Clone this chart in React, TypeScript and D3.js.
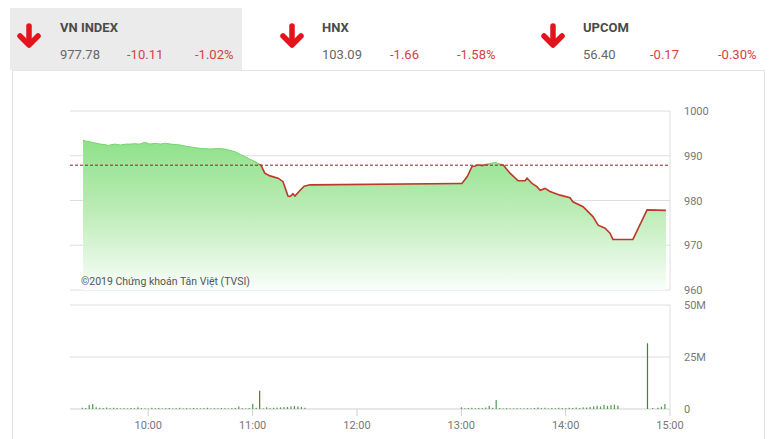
import React from "react";
import * as d3 from "d3";

// ---------- header data ----------
const indexNames = ["VN INDEX", "HNX", "UPCOM"];
const indexValues = ["977.78", "103.09", "56.40"];
const indexChanges = ["-10.11", "-1.66", "-0.17"];
const indexPercents = ["-1.02%", "-1.58%", "-0.30%"];

// ---------- price series ----------
const refPrice = 987.89;
const priceTimes = [
  "09:22:30", "09:24:00", "09:26:30", "09:29:00", "09:32:20", "09:35:00", "09:37:00", "09:39:00",
  "09:41:00", "09:44:00", "09:47:00", "09:49:30", "09:52:00", "09:55:00", "09:58:00", "10:01:00",
  "10:04:00", "10:07:00", "10:09:40", "10:13:00", "10:18:20", "10:22:00", "10:27:00", "10:31:00",
  "10:35:30", "10:40:00", "10:44:00", "10:47:00", "10:50:00", "10:53:00", "10:55:40", "10:58:00",
  "11:01:20", "11:04:50", "11:07:00", "11:10:00", "11:14:40", "11:17:30", "11:20:20", "11:21:30",
  "11:22:30", "11:23:10", "11:24:20", "11:27:20", "11:29:40", "11:33:00", "12:59:20", "13:00:20",
  "13:03:20", "13:06:10", "13:08:00", "13:09:40", "13:12:00", "13:14:00", "13:19:20", "13:22:00",
  "13:24:00", "13:28:00", "13:32:40", "13:36:40", "13:37:50", "13:40:40", "13:43:30", "13:45:20",
  "13:48:10", "13:51:00", "13:56:50", "14:02:30", "14:04:10", "14:10:00", "14:15:40", "14:18:40",
  "14:22:40", "14:25:30", "14:27:10", "14:38:40", "14:46:50", "14:57:40",
];
const priceValues = [
  993.5, 993.3, 993.1, 992.9, 992.6, 992.5, 992.3, 992.5,
  992.6, 992.4, 992.6, 992.6, 992.7, 992.6, 993.0, 992.6,
  992.8, 992.6, 992.8, 992.6, 992.4, 992.1, 991.8, 991.6,
  991.5, 991.6, 991.5, 991.2, 990.9, 990.3, 989.8, 989.3,
  988.7, 987.9, 986.1, 985.5, 985.0, 984.2, 981.0, 980.9,
  981.2, 981.5, 981.0, 982.3, 983.2, 983.5, 983.8, 983.8,
  985.3, 987.6, 987.7, 988.0, 987.8, 988.1, 988.5, 988.2,
  988.0, 986.1, 984.4, 984.4, 985.0, 983.8, 983.1, 982.3,
  982.7, 982.0, 981.2, 980.6, 979.7, 978.6, 976.4, 974.5,
  973.8, 972.7, 971.3, 971.3, 977.9, 977.8,
];

// ---------- volume series (millions) ----------
const volumeTimes = [
  "09:22", "09:24", "09:26", "09:28", "09:30", "09:32", "09:34", "09:36", "09:38", "09:40",
  "09:42", "09:44", "09:46", "09:48", "09:50", "09:52", "09:54", "09:56", "09:58", "10:00",
  "10:02", "10:04", "10:06", "10:08", "10:10", "10:12", "10:14", "10:16", "10:18", "10:20",
  "10:22", "10:24", "10:26", "10:28", "10:30", "10:32", "10:34", "10:36", "10:38", "10:40",
  "10:42", "10:44", "10:46", "10:48", "10:50", "10:52", "10:54", "10:56", "10:58", "11:00",
  "11:02", "11:04", "11:06", "11:08", "11:10", "11:12", "11:14", "11:16", "11:18", "11:20",
  "11:22", "11:24", "11:26", "11:28", "11:30",
  "13:00", "13:02", "13:04", "13:06", "13:08", "13:10", "13:12", "13:14", "13:16", "13:18",
  "13:20", "13:22", "13:24", "13:26", "13:28", "13:30", "13:32", "13:34", "13:36", "13:38",
  "13:40", "13:42", "13:44", "13:46", "13:48", "13:50", "13:52", "13:54", "13:56", "13:58",
  "14:00", "14:02", "14:04", "14:06", "14:08", "14:10", "14:12", "14:14", "14:16", "14:18",
  "14:20", "14:22", "14:24", "14:26", "14:28", "14:30",
  "14:47", "14:50", "14:53", "14:55", "14:57",
];
const volumeValues = [
  0.6, 0.5, 2.0, 2.4, 0.9, 0.6, 0.5, 0.7, 0.4, 0.6,
  0.5, 0.3, 0.4, 0.3, 0.5, 0.4, 0.8, 0.4, 0.3, 0.2,
  0.6, 0.4, 0.5, 0.3, 0.4, 0.5, 0.3, 0.4, 0.6, 0.3,
  0.4, 0.3, 0.5, 0.4, 0.3, 0.4, 0.6, 0.3, 0.4, 0.3,
  0.5, 0.4, 0.3, 0.4, 0.5, 1.2, 0.4, 0.3, 0.5, 2.5,
  0.6, 8.8, 0.3, 0.8, 0.4, 0.6, 0.7, 0.8, 0.9, 1.0,
  1.3, 1.5, 1.2, 1.0, 0.6,
  0.8, 0.4, 0.5, 0.6, 0.4, 0.5, 0.4, 0.7, 1.5, 0.6,
  4.3, 0.5, 0.3, 0.4, 0.3, 0.3, 0.4, 0.3, 0.3, 0.4,
  0.3, 0.5, 0.7, 0.4, 0.6, 0.3, 0.5, 0.4, 0.6, 0.5,
  0.4, 0.6, 0.5, 0.7, 0.5, 0.8, 0.7, 1.0, 1.3, 1.6,
  1.2, 2.0, 1.5, 1.8, 2.1, 1.6,
  31.6, 0.5, 0.6, 1.1, 2.4,
];

// ---------- axes ----------
const priceTicks = [1000, 990, 980, 970, 960];
const volumeTicks = [50, 25, 0];
const volumeTickLabels = ["50M", "25M", "0"];
const timeTicks = ["10:00", "11:00", "12:00", "13:00", "14:00", "15:00"];
const domainStart = "09:15";
const domainEnd = "15:00";

const toDate = (s: string) => {
  const p = s.split(":").map(Number);
  return new Date(2019, 0, 1, p[0], p[1], p[2] || 0);
};

export default function App() {
  const W = 780, H = 439;
  const x = d3.scaleTime().domain([toDate(domainStart), toDate(domainEnd)]).range([70, 670]);
  const y = d3.scaleLinear().domain([960, 1000]).range([290, 111]);
  const yv = d3.scaleLinear().domain([0, 50]).range([409, 305]);

  const pts = priceTimes.map((t, i) => ({ t: toDate(t), v: priceValues[i] }));
  const area = d3.area<{ t: Date; v: number }>().x(d => x(d.t)).y0(y(960)).y1(d => y(d.v));
  const line = d3.line<{ t: Date; v: number }>().x(d => x(d.t)).y(d => y(d.v));
  const yRef = y(refPrice);

  const font = "Roboto, 'Noto Sans', Arial, sans-serif";
  const red = "#d2423f";
  const gray = "#666";
  const headerX = [60, 322, 583];
  const arrowX = [29, 292, 553];
  const changeX = [127, 390, 650];
  const pctX = [195, 457, 718];

  return (
    <svg width={W} height={H} style={{ position: "absolute", left: 0, top: 0, display: "block", background: "#fff" }} fontFamily={font}>
      <defs>
        <linearGradient id="ag" gradientUnits="userSpaceOnUse" x1="0" y1="130" x2="0" y2="290">
          <stop offset="0" stopColor="#88e083" />
          <stop offset="0.5" stopColor="#bbecb6" />
          <stop offset="1" stopColor="#fafefa" />
        </linearGradient>
        <clipPath id="above"><rect x={0} y={0} width={W} height={yRef} /></clipPath>
        <clipPath id="below"><rect x={0} y={yRef - 1} width={W} height={H} /></clipPath>
      </defs>

      {/* panel */}
      <rect x={12.5} y={70.5} width={752} height={380} fill="#fff" stroke="#e4e4e4" />
      <rect x={10} y={8} width={232} height={62} fill="#ebebeb" />

      {/* header */}
      {indexNames.map((n, i) => (
        <g key={n}>
          <g stroke="#e3141b" strokeWidth={5.5} strokeLinecap="round" strokeLinejoin="round" fill="none">
            <line x1={arrowX[i]} y1={26} x2={arrowX[i]} y2={44} />
            <polyline points={`${arrowX[i] - 9},${36} ${arrowX[i]},${45} ${arrowX[i] + 9},${36}`} />
          </g>
          <text x={headerX[i]} y={32} fontSize={13} fontWeight="bold" fill="#4a4a4a">{n}</text>
          <text x={headerX[i]} y={59} fontSize={13} fill={gray}>{indexValues[i]}</text>
          <text x={changeX[i]} y={59} fontSize={13} fill={red}>{indexChanges[i]}</text>
          <text x={pctX[i]} y={59} fontSize={13} fill={red}>{indexPercents[i]}</text>
        </g>
      ))}

      {/* price grid */}
      {priceTicks.map(t => (
        <g key={t}>
          <line x1={70} x2={670} y1={y(t)} y2={y(t)} stroke="#dedede" />
          <text x={684} y={y(t) + 4} fontSize={11} fill="#777">{t}</text>
        </g>
      ))}
      <line x1={670} x2={670} y1={y(1000)} y2={y(960)} stroke="#dedede" />

      {/* price area and lines */}
      <path d={area(pts) || ""} fill="url(#ag)" />
      <path d={line(pts) || ""} fill="none" stroke="#74d46e" strokeWidth={1} clipPath="url(#above)" />
      <line x1={70} x2={670} y1={yRef} y2={yRef} stroke="#8e1f1f" strokeWidth={1} strokeDasharray="3,2" />
      <path d={line(pts) || ""} fill="none" stroke="#bd3828" strokeWidth={1.6} clipPath="url(#below)" />

      <text x={81} y={285} fontSize={11} fill="#555" textLength={169} lengthAdjust="spacingAndGlyphs">©2019 Chứng khoán Tân Việt (TVSI)</text>

      {/* volume grid */}
      {volumeTicks.map((t, i) => (
        <g key={t}>
          <line x1={70} x2={670} y1={yv(t)} y2={yv(t)} stroke={t === 0 ? "#cfcfcf" : "#dedede"} />
          <text x={684} y={yv(t) + 4} fontSize={11} fill="#777">{volumeTickLabels[i]}</text>
        </g>
      ))}
      <line x1={670} x2={670} y1={yv(50)} y2={yv(0)} stroke="#dedede" />

      {volumeTimes.map((t, i) => (
        <rect key={t} x={x(toDate(t)) - 0.5} y={yv(volumeValues[i])} width={1.2}
          height={yv(0) - yv(volumeValues[i])} fill={volumeValues[i] > 5 ? "#3f7f3f" : "#4f9a4f"} />
      ))}

      {/* time axis */}
      {timeTicks.map(t => (
        <g key={t}>
          <line x1={x(toDate(t))} x2={x(toDate(t))} y1={409} y2={416} stroke="#d0d0d0" />
          <text x={x(toDate(t))} y={429} fontSize={11} fill="#777" textAnchor="middle">{t}</text>
        </g>
      ))}
    </svg>
  );
}
